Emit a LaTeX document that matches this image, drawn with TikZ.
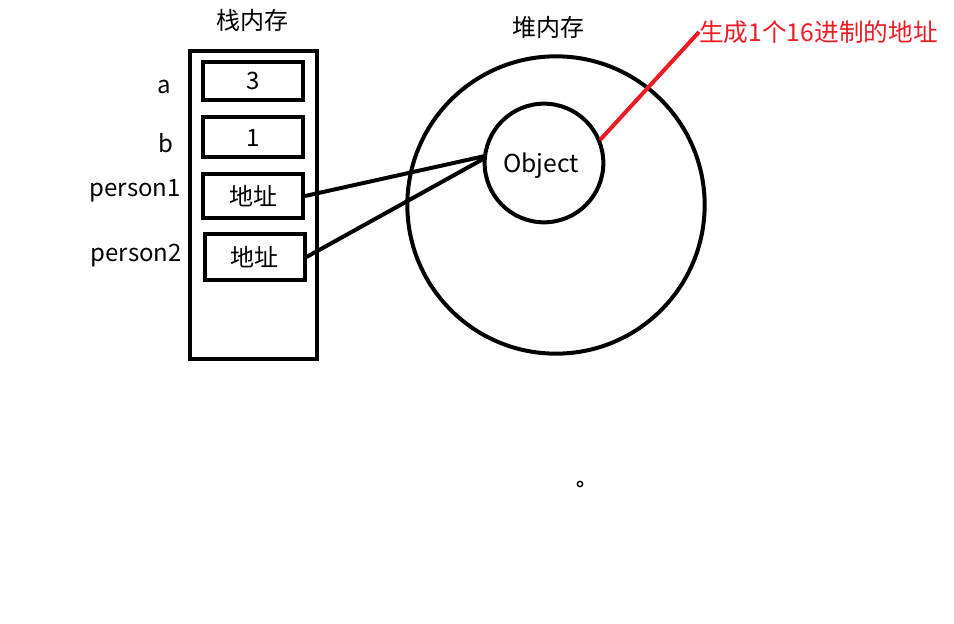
\documentclass[tikz,border=0pt]{standalone}
\usepackage{fontspec}
\setmainfont{Noto Sans CJK SC}
\begin{document}
\begin{tikzpicture}[x=0.75pt,y=-0.75pt,
  lbl/.style={font=\fontsize{18}{20}\selectfont, inner sep=0pt},
  cell/.style={draw, line width=3pt, minimum width=75pt, minimum height=28pt, inner sep=0pt, font=\fontsize{18}{20}\selectfont},
  ring/.style={draw, circle, line width=3pt, inner sep=0pt},
  link/.style={line width=3pt}]
\useasboundingbox (0,0) rectangle (954,624);
% stack
\node[draw, line width=3pt, minimum width=95pt, minimum height=231pt, inner sep=0pt] (stack) at (253.5,205) {};
\node[lbl] (stacktitle) at (252,20) {栈内存};
\node[cell] (ca) at (253,81) {3};
\node[cell, minimum height=30pt] (cb) at (253,137.5) {1};
\node[cell, minimum height=33pt] (cp1) at (253,196) {地址};
\node[cell, minimum height=34pt] (cp2) at (254.5,257) {地址};
\node[lbl, anchor=east] (la) at (171,87) {a};
\node[lbl, anchor=east] (lb) at (174,143) {b};
\node[lbl, anchor=east] (lp1) at (181,191) {person1};
\node[lbl, anchor=east] (lp2) at (182,256) {person2};
% heap
\node[ring, minimum size=223pt] (heap) at (556,205) {};
\node[lbl] (heaptitle) at (548,27) {堆内存};
\node[ring, minimum size=89pt] (obj) at (544,163) {};
\node[lbl, font=\fontsize{18.5}{20}\selectfont] (objtext) at (541,166) {Object};
\coordinate (t1) at (485,156);
\coordinate (t2) at (485,158);
\draw[link] (cp1.east) -- (t1);
\draw[link] (cp2.east) -- (t2);
% red annotation
\node[lbl, font=\fontsize{18.5}{20}\selectfont, anchor=west, text={rgb,255:red,237;green,28;blue,36}] (note) at (699,32) {生成1个16进制的地址};
\coordinate (rs) at (600,140);
\draw[line width=3pt, draw={rgb,255:red,237;green,28;blue,36}] (rs) -- (note.west);
% small dot
\node[draw, circle, line width=1pt, minimum size=4pt, inner sep=0pt] (dot) at (580,484) {};
\end{tikzpicture}
\end{document}
